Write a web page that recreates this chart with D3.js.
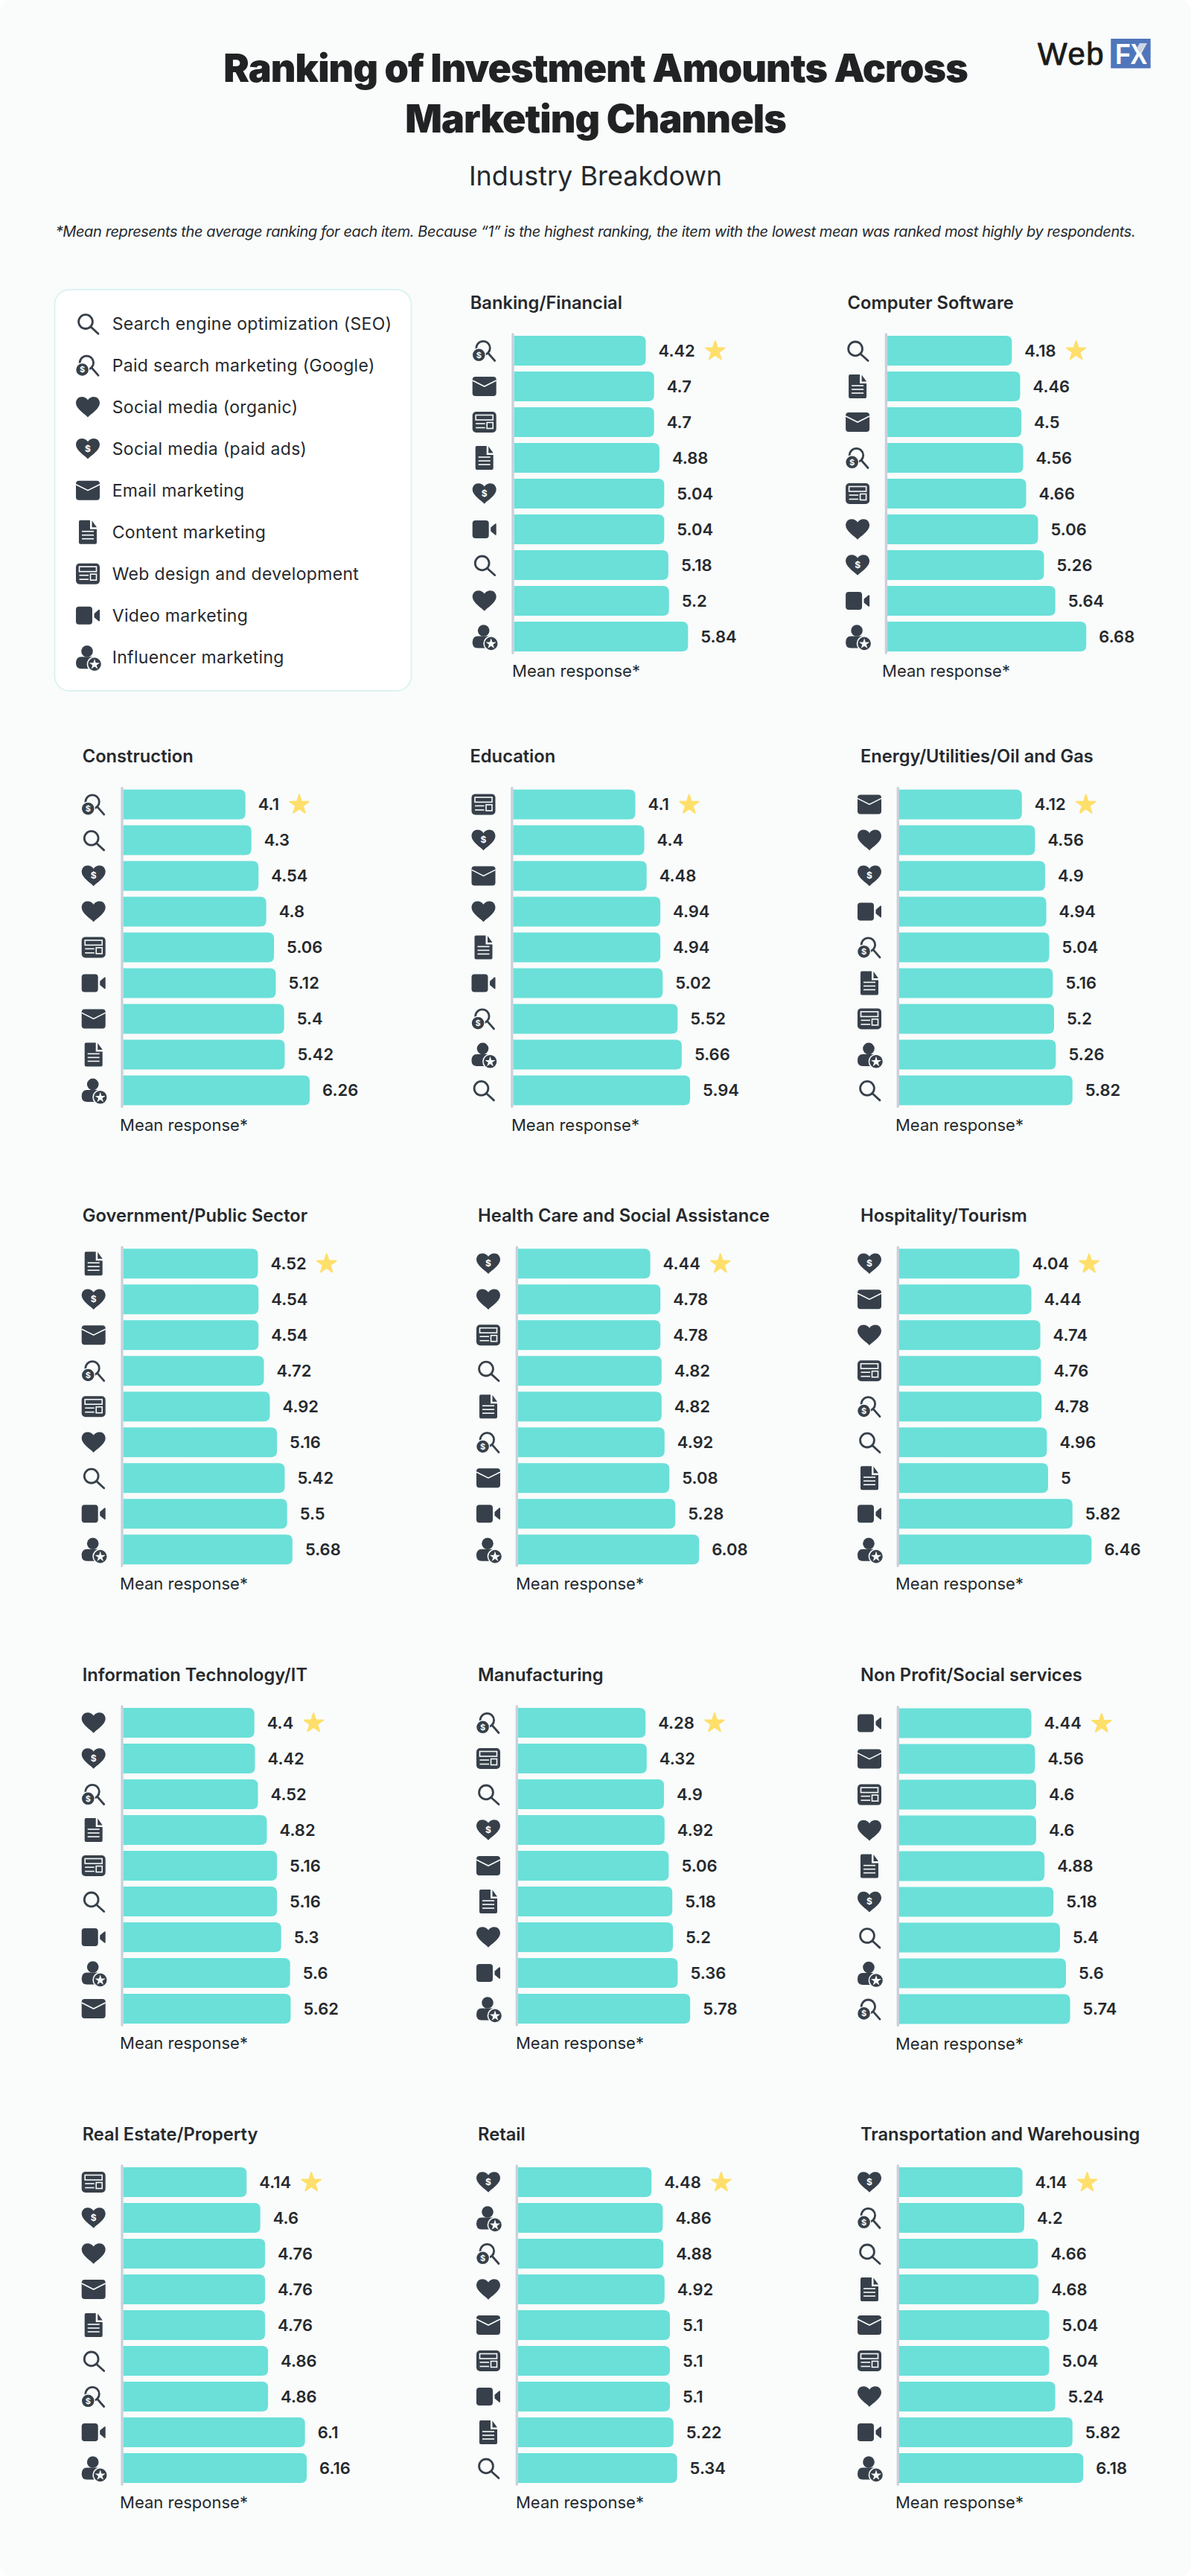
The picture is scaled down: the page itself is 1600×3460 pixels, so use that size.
<!DOCTYPE html>
<html>
<head>
<meta charset="utf-8">
<title>Ranking of Investment Amounts Across Marketing Channels</title>
<script src="https://cdn.jsdelivr.net/npm/d3@7"></script>
<style>
html, body { margin: 0; padding: 0; background: #ffffff; }
svg { display: block; }
text { font-family: Inter, "Noto Sans", sans-serif; }
</style>
</head>
<body>
<div id="chart"></div>
<script>
// legend: key + label
var channelKeys = ["seo", "paid", "organic", "social", "email", "content", "web", "video", "influencer"];
var channelNames = ["Search engine optimization (SEO)", "Paid search marketing (Google)", "Social media (organic)",
	"Social media (paid ads)", "Email marketing", "Content marketing", "Web design and development",
	"Video marketing", "Influencer marketing"];

var industries = ["Banking/Financial", "Computer Software", "Construction", "Education", "Energy/Utilities/Oil and Gas",
	"Government/Public Sector", "Health Care and Social Assistance", "Hospitality/Tourism",
	"Information Technology/IT", "Manufacturing", "Non Profit/Social services",
	"Real Estate/Property", "Retail", "Transportation and Warehousing"];

// channel order of each industry, top bar first
var channelOrder = [
	["paid", "email", "web", "content", "social", "video", "seo", "organic", "influencer"],
	["seo", "content", "email", "paid", "web", "organic", "social", "video", "influencer"],
	["paid", "seo", "social", "organic", "web", "video", "email", "content", "influencer"],
	["web", "social", "email", "organic", "content", "video", "paid", "influencer", "seo"],
	["email", "organic", "social", "video", "paid", "content", "web", "influencer", "seo"],
	["content", "social", "email", "paid", "web", "organic", "seo", "video", "influencer"],
	["social", "organic", "web", "seo", "content", "paid", "email", "video", "influencer"],
	["social", "email", "organic", "web", "paid", "seo", "content", "video", "influencer"],
	["organic", "social", "paid", "content", "web", "seo", "video", "influencer", "email"],
	["paid", "web", "seo", "social", "email", "content", "organic", "video", "influencer"],
	["video", "email", "web", "organic", "content", "social", "seo", "influencer", "paid"],
	["web", "social", "organic", "email", "content", "seo", "paid", "video", "influencer"],
	["social", "influencer", "paid", "organic", "email", "web", "video", "content", "seo"],
	["social", "paid", "seo", "content", "email", "web", "organic", "video", "influencer"]
];

var meanValues = [
	[4.42, 4.7, 4.7, 4.88, 5.04, 5.04, 5.18, 5.2, 5.84],
	[4.18, 4.46, 4.5, 4.56, 4.66, 5.06, 5.26, 5.64, 6.68],
	[4.1, 4.3, 4.54, 4.8, 5.06, 5.12, 5.4, 5.42, 6.26],
	[4.1, 4.4, 4.48, 4.94, 4.94, 5.02, 5.52, 5.66, 5.94],
	[4.12, 4.56, 4.9, 4.94, 5.04, 5.16, 5.2, 5.26, 5.82],
	[4.52, 4.54, 4.54, 4.72, 4.92, 5.16, 5.42, 5.5, 5.68],
	[4.44, 4.78, 4.78, 4.82, 4.82, 4.92, 5.08, 5.28, 6.08],
	[4.04, 4.44, 4.74, 4.76, 4.78, 4.96, 5, 5.82, 6.46],
	[4.4, 4.42, 4.52, 4.82, 5.16, 5.16, 5.3, 5.6, 5.62],
	[4.28, 4.32, 4.9, 4.92, 5.06, 5.18, 5.2, 5.36, 5.78],
	[4.44, 4.56, 4.6, 4.6, 4.88, 5.18, 5.4, 5.6, 5.74],
	[4.14, 4.6, 4.76, 4.76, 4.76, 4.86, 4.86, 6.1, 6.16],
	[4.48, 4.86, 4.88, 4.92, 5.1, 5.1, 5.1, 5.22, 5.34],
	[4.14, 4.2, 4.66, 4.68, 5.04, 5.04, 5.24, 5.82, 6.18]
];

// panel placement, same order as industries
var panelBarX = [690.7, 1192.1, 165.7, 689.5, 1208, 165.7, 696, 1208, 165.7, 696, 1208, 165.7, 696, 1208];
var panelTitleX = [631.7, 1138.6, 110.7, 631.5, 1156, 110.7, 642, 1156, 110.7, 642, 1156, 110.7, 642, 1156];
var panelMeanX = [688, 1185, 161, 687, 1203, 161, 693, 1203, 161, 693, 1203, 161, 693, 1203];
var panelBarTop = [451, 451, 1060.4, 1060.4, 1060.4, 1677.2, 1677.2, 1677.2, 2294, 2294, 2294.6, 2911, 2911, 2911];

var width = 1600;
var height = 3460;
var bgColor = "#f9fcfb";
var iconColor = "#37404a";
var textColor = "#26292d";
var barColor = "#6ae0d8";

var svgContainer = d3.select("#chart").append("svg")
	.attr("width", width)
	.attr("height", height);

svgContainer.append("rect")
	.attr("width", width)
	.attr("height", height)
	.attr("rx", 14)
	.style("fill", bgColor);

// mean -> px, 40px per unit
var x = d3.scaleLinear().domain([0, 7]).range([0, 280]);
var y = d3.scaleBand().domain(d3.range(9)).range([0, 424]).paddingInner(8 / 48);

function barPath(v, i) {
	var r = 8;
	var w = x(v);
	var t = y(i);
	var b = y.bandwidth();
	return "M0," + t + "H" + (w - r) + "Q" + w + "," + t + " " + w + "," + (t + r) +
		"V" + (t + b - r) + "Q" + w + "," + (t + b) + " " + (w - r) + "," + (t + b) + "H0Z";
}

function dollar(g, cx, cy, size, color) {
	g.append("text")
		.attr("x", cx)
		.attr("y", cy + size * 0.36)
		.attr("text-anchor", "middle")
		.attr("font-size", size)
		.attr("font-weight", 700)
		.style("fill", color)
		.text("$");
}

var heartShape = "M0,13.8C-3.6,9.6 -16,2.6 -16,-5.4C-16,-10.4 -12.4,-13.8 -8,-13.8C-4.6,-13.8 -1.6,-12 0,-9.4C1.6,-12 4.6,-13.8 8,-13.8C12.4,-13.8 16,-10.4 16,-5.4C16,2.6 3.6,9.6 0,13.8Z";

function searchGlass(g, cx, cy, r) {
	g.append("circle")
		.attr("cx", cx).attr("cy", cy).attr("r", r)
		.style("fill", "none").style("stroke", iconColor).style("stroke-width", 2.8);
	g.append("line")
		.attr("x1", cx + r * 0.72).attr("y1", cy + r * 0.72)
		.attr("x2", 14).attr("y2", 13.5)
		.style("stroke", iconColor).style("stroke-width", 2.8).style("stroke-linecap", "round");
}

function drawIcon(g, key, halo) {
	if (key == "seo") {
		searchGlass(g, -3, -2.6, 9.4);
	} else if (key == "paid") {
		searchGlass(g, -1.6, -3.4, 9.2);
		g.append("circle")
			.attr("cx", -7.4).attr("cy", 5.8).attr("r", 9)
			.style("fill", iconColor).style("stroke", halo).style("stroke-width", 1.4);
		dollar(g, -7.4, 5.8, 11, halo);
	} else if (key == "organic") {
		g.append("path").attr("d", heartShape).style("fill", iconColor);
	} else if (key == "social") {
		g.append("path").attr("d", heartShape).style("fill", iconColor);
		dollar(g, 0, -0.5, 12, halo);
	} else if (key == "email") {
		g.append("rect")
			.attr("x", -16).attr("y", -13).attr("width", 32).attr("height", 26).attr("rx", 4)
			.style("fill", iconColor);
		g.append("path")
			.attr("d", "M-16,-8L0,0L16,-8")
			.style("fill", "none").style("stroke", halo).style("stroke-width", 1.6);
	} else if (key == "content") {
		g.append("path")
			.attr("d", "M-10,-16H3V-4H12V14Q12,16 10,16H-10Q-12,16 -12,14V-14Q-12,-16 -10,-16Z")
			.style("fill", iconColor);
		g.append("path").attr("d", "M5.5,-15.5L12,-6.5H5.5Z").style("fill", iconColor);
		[-1, 4, 9].forEach(function (ly) {
			g.append("line")
				.attr("x1", -8).attr("x2", 8).attr("y1", ly).attr("y2", ly)
				.style("stroke", halo).style("stroke-width", 1.6);
		});
	} else if (key == "web") {
		g.append("rect")
			.attr("x", -16).attr("y", -14).attr("width", 32).attr("height", 28).attr("rx", 5)
			.style("fill", iconColor);
		g.append("rect")
			.attr("x", -11.5).attr("y", -9.5).attr("width", 23).attr("height", 6.5)
			.style("fill", "none").style("stroke", halo).style("stroke-width", 1.6);
		g.append("rect")
			.attr("x", 3.5).attr("y", 0.5).attr("width", 8).attr("height", 8)
			.style("fill", "none").style("stroke", halo).style("stroke-width", 1.6);
		[2, 7.5].forEach(function (ly) {
			g.append("line")
				.attr("x1", -11.5).attr("x2", 1).attr("y1", ly).attr("y2", ly)
				.style("stroke", halo).style("stroke-width", 1.6);
		});
	} else if (key == "video") {
		g.append("rect")
			.attr("x", -16).attr("y", -12).attr("width", 22).attr("height", 24).attr("rx", 4)
			.style("fill", iconColor);
		g.append("path")
			.attr("d", "M8.5,-2.5L14.5,-7.6Q16,-8.4 16,-6.8V6.8Q16,8.4 14.5,7.6L8.5,2.5Z")
			.style("fill", iconColor);
	} else if (key == "influencer") {
		g.append("circle")
			.attr("cx", -1).attr("cy", -8).attr("r", 7.8)
			.style("fill", iconColor);
		g.append("path")
			.attr("d", "M-9,-0.5H5Q9,-0.5 9,3V15.5H-9Q-16,15.5 -16,8Q-16,-0.5 -9,-0.5Z")
			.style("fill", iconColor);
		g.append("circle")
			.attr("cx", 9).attr("cy", 9.4).attr("r", 9.6)
			.style("fill", iconColor).style("stroke", halo).style("stroke-width", 1.6);
		g.append("path")
			.attr("d", d3.symbol().type(d3.symbolStar).size(62)())
			.attr("transform", "translate(9,9.8)")
			.style("fill", halo);
	}
}

function drawHeader() {
	var title = ["Ranking of Investment Amounts Across", "Marketing Channels"];
	svgContainer.selectAll(".title")
		.data(title)
		.enter()
		.append("text")
		.attr("class", "title")
		.attr("x", 800)
		.attr("y", function (d, i) { return 110 + i * 68.3; })
		.attr("text-anchor", "middle")
		.attr("font-size", "52px")
		.attr("font-weight", 900)
		.attr("letter-spacing", "-0.95px")
		.style("fill", "#202224")
		.text(function (d) { return d; });

	svgContainer.append("text")
		.attr("x", 800)
		.attr("y", 249)
		.attr("text-anchor", "middle")
		.attr("font-size", "36px")
		.style("fill", textColor)
		.text("Industry Breakdown");

	svgContainer.append("text")
		.attr("x", 800)
		.attr("y", 318)
		.attr("text-anchor", "middle")
		.attr("font-size", "20px")
		.attr("font-style", "italic")
		.attr("letter-spacing", "-0.4px")
		.style("fill", textColor)
		.text("*Mean represents the average ranking for each item. Because \u201c1\u201d is the highest ranking, the item with the lowest mean was ranked most highly by respondents.");

	// logo
	svgContainer.append("text")
		.attr("x", 1394)
		.attr("y", 86.7)
		.attr("font-size", "42px")
		.attr("letter-spacing", "1.5px")
		.style("font-family", "'Liberation Sans', Arial, sans-serif")
		.style("fill", "#1a1a1a")
		.style("stroke", "#1a1a1a")
		.style("stroke-width", 0.9)
		.text("Web");
	svgContainer.append("rect")
		.attr("x", 1492.3).attr("y", 52)
		.attr("width", 53.4).attr("height", 39.7)
		.style("fill", "#4f76bb");
	svgContainer.append("text")
		.attr("x", 1498.3)
		.attr("y", 86)
		.attr("font-size", "39px")
		.attr("font-weight", 700)
		.attr("textLength", 42.7)
		.attr("lengthAdjust", "spacingAndGlyphs")
		.style("font-family", "'Liberation Sans', Arial, sans-serif")
		.style("fill", "#ffffff")
		.text("FX");
	// lighter arm of the X
	svgContainer.append("path")
		.attr("d", "M1531,58H1541L1532,71.5L1527,65Z")
		.style("fill", "#c9d6e6");
}

function drawLegend() {
	svgContainer.append("rect")
		.attr("x", 73.5).attr("y", 389)
		.attr("width", 479).attr("height", 539)
		.attr("rx", 20)
		.style("fill", "#ffffff")
		.style("stroke", "#dcf3f1")
		.style("stroke-width", 2);

	var rows = svgContainer.selectAll(".legend-row")
		.data(channelKeys)
		.enter()
		.append("g")
		.attr("class", "legend-row")
		.attr("transform", function (d, i) { return "translate(118," + (434.7 + i * 56) + ")"; });

	rows.each(function (d) { drawIcon(d3.select(this), d, "#ffffff"); });

	rows.append("text")
		.attr("x", 32.7)
		.attr("y", 8)
		.attr("font-size", "23px")
		.attr("letter-spacing", "0.33px")
		.style("fill", textColor)
		.text(function (d, i) { return channelNames[i]; });
}

function drawPanel(p) {
	var g = svgContainer.append("g")
		.attr("transform", "translate(" + panelBarX[p] + "," + panelBarTop[p] + ")");

	g.append("text")
		.attr("x", panelTitleX[p] - panelBarX[p])
		.attr("y", -36.4)
		.attr("font-size", "23.7px")
		.attr("font-weight", 600)
		.style("fill", textColor)
		.text(industries[p]);

	// baseline runs a little past the bars
	g.append("line")
		.attr("x1", -1.7).attr("x2", -1.7)
		.attr("y1", y.range()[0] - 2).attr("y2", y.range()[1] + 2)
		.style("stroke", "#c9d0da")
		.style("stroke-width", 3.3)
		.style("stroke-linecap", "round");

	g.selectAll(".bar")
		.data(meanValues[p])
		.enter()
		.append("path")
		.attr("class", "bar")
		.attr("d", barPath)
		.style("fill", barColor);

	var labels = g.selectAll(".value")
		.data(meanValues[p])
		.enter()
		.append("text")
		.attr("class", "value")
		.attr("x", function (d) { return x(d) + 17; })
		.attr("y", function (d, i) { return y(i) + y.bandwidth() / 2 + 7.8; })
		.attr("font-size", "22px")
		.attr("font-weight", 600)
		.style("fill", textColor)
		.text(function (d) { return d; });

	// star sits after the lowest mean
	var first = labels.node();
	g.append("path")
		.attr("d", d3.symbol().type(d3.symbolStar).size(200)())
		.attr("transform", "translate(" + (x(meanValues[p][0]) + 17 + first.getComputedTextLength() + 27) + "," + (y(0) + y.bandwidth() / 2 + 0.5) + ")")
		.style("fill", "#ffdf6b")
		.style("stroke", "#ffdf6b")
		.style("stroke-width", 2)
		.style("stroke-linejoin", "round");

	g.selectAll(".icon")
		.data(channelOrder[p])
		.enter()
		.append("g")
		.attr("class", "icon")
		.attr("transform", function (d, i) { return "translate(-40," + (y(i) + y.bandwidth() / 2) + ")"; })
		.each(function (d) { drawIcon(d3.select(this), d, bgColor); });

	g.append("text")
		.attr("x", panelMeanX[p] - panelBarX[p])
		.attr("y", y.range()[1] + 34.3)
		.attr("font-size", "22px")
		.style("fill", textColor)
		.text("Mean response*");
}

drawHeader();
drawLegend();
industries.forEach(function (d, i) { drawPanel(i); });
</script>
</body>
</html>
